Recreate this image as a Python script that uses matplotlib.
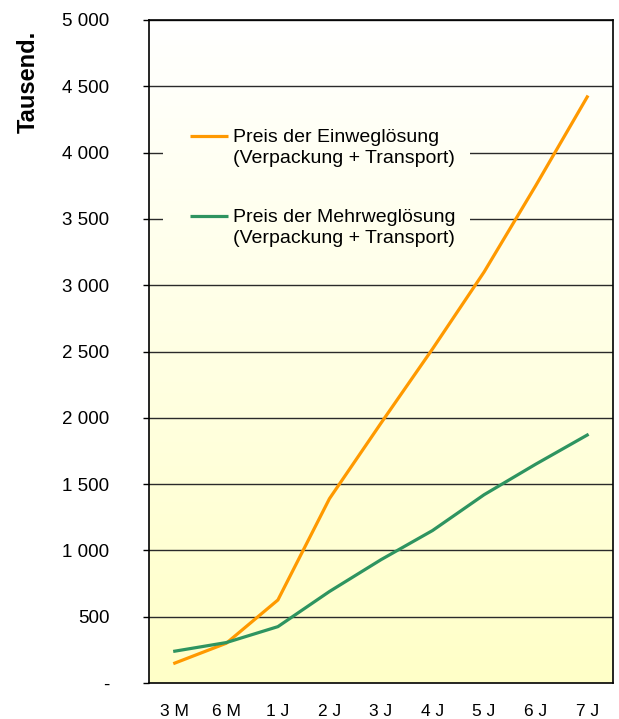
import numpy as np
import matplotlib
matplotlib.use("Agg")
import matplotlib.pyplot as plt
from matplotlib.colors import LinearSegmentedColormap

categories = ["3 M", "6 M", "1 J", "2 J", "3 J", "4 J", "5 J", "6 J", "7 J"]
einweg = [150, 300, 626, 1390, 1960, 2520, 3100, 3750, 4420]
mehrweg = [240, 305, 425, 690, 930, 1150, 1420, 1650, 1870]
yticks = [0, 500, 1000, 1500, 2000, 2500, 3000, 3500, 4000, 4500, 5000]
ytick_labels = ["-", "500", "1 000", "1 500", "2 000", "2 500", "3 000",
                "3 500", "4 000", "4 500", "5 000"]
label_ein = "Preis der Einweglösung\n(Verpackung + Transport)"
label_mehr = "Preis der Mehrweglösung\n(Verpackung + Transport)"
color_ein = '#ff9900'
color_mehr = '#2e9460'

plt.rcParams['font.family'] = ['Liberation Sans', 'DejaVu Sans']

W, H = 619, 719
fig = plt.figure(figsize=(W / 100, H / 100), dpi=100)
L, R, T, B = 149, 613, 20, 683
ax = fig.add_axes([L / W, (H - B) / H, (R - L) / W, (B - T) / H])

def ax_x(px):
    return (px - L) / (R - L)

def ax_y(py):
    return (B - py) / (B - T)

x = np.arange(len(categories))

# gradient background
cmap = LinearSegmentedColormap.from_list("bg", ["#ffffff", "#ffffc8"])
grad = np.linspace(0, 1, 256).reshape(-1, 1)
ax.imshow(grad, aspect='auto', cmap=cmap, vmin=0, vmax=1,
          extent=[0, 1, 0, 1], transform=ax.transAxes, zorder=0)

for yt in yticks[1:]:
    ax.axhline(yt, color='#2a2a2a', lw=1.0, zorder=1)

# legend background patch (same gradient, covers gridlines)
bx0, bx1, by0, by1 = 163, 470, 98, 263
sub = np.linspace((by0 - T) / (B - T), (by1 - T) / (B - T), 64).reshape(-1, 1)
ax.imshow(sub, aspect='auto', cmap=cmap, vmin=0, vmax=1,
          extent=[ax_x(bx0), ax_x(bx1), ax_y(by1), ax_y(by0)],
          transform=ax.transAxes, zorder=2)

ax.plot(x, einweg, color=color_ein, lw=2.3, zorder=3)
ax.plot(x, mehrweg, color=color_mehr, lw=2.3, zorder=3)

# manual legend
for (ly, lab, col) in [(136, label_ein, color_ein), (216, label_mehr, color_mehr)]:
    ax.plot([ax_x(190), ax_x(228)], [ax_y(ly), ax_y(ly)], color=col, lw=2.3,
            transform=ax.transAxes, zorder=4, solid_capstyle='butt')
    ax.text(ax_x(233), ax_y(ly + 12), lab, transform=ax.transAxes, fontsize=14,
            ha='left', va='center', linespacing=1.25, zorder=4)

ax.set_xlim(-0.5, len(categories) - 0.5)
ax.set_ylim(0, 5000)
ax.set_yticks(yticks)
ax.set_yticklabels(ytick_labels, fontsize=13.5)
ax.set_xticks(x)
ax.set_xticklabels(categories, fontsize=12.5)
ax.tick_params(axis='y', direction='out', length=4.5, width=1, pad=24)
ax.tick_params(axis='x', length=0, pad=15)

for s in ['left', 'bottom', 'top', 'right']:
    ax.spines[s].set_linewidth(1.2)
    ax.spines[s].set_color('black')

fig.text(28 / W, 1 - 82 / H, "Tausend.", rotation=90, fontsize=17,
         fontweight='bold', ha='center', va='center')

fig.savefig("out.png", dpi=100)
